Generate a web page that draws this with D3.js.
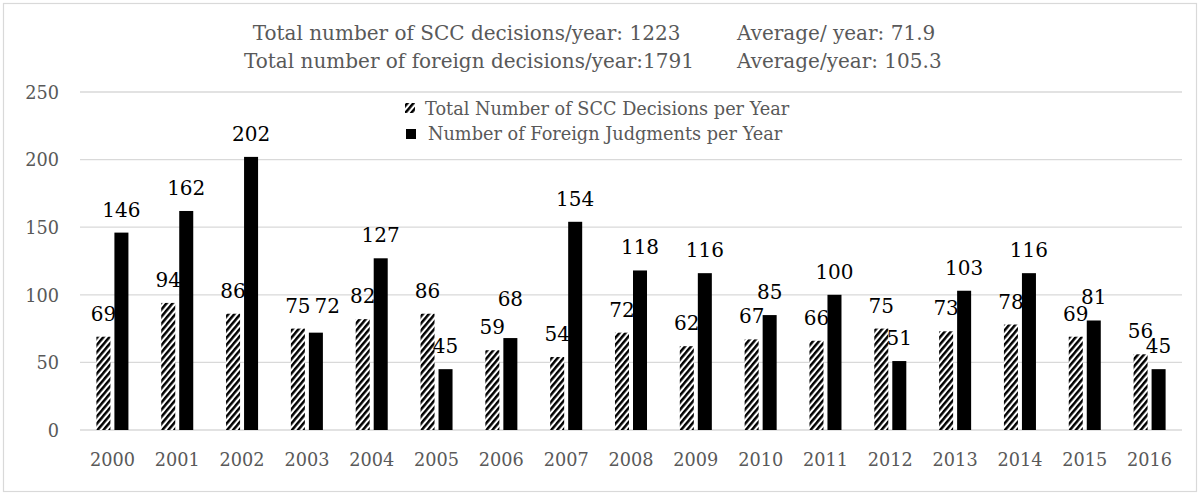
<!DOCTYPE html>
<html>
<head>
<meta charset="utf-8">
<script src="https://cdn.jsdelivr.net/npm/d3@7"></script>
<style>
  html, body { margin: 0; padding: 0; background: #fff; }
  svg { display: block; }
  text { font-family: "DejaVu Serif", serif; }
</style>
</head>
<body>
<svg id="chart" width="1200" height="493"></svg>
<script>
// ---- Data ----
const years = ["2000","2001","2002","2003","2004","2005","2006","2007","2008","2009","2010","2011","2012","2013","2014","2015","2016"];
const sccDecisions = [69,94,86,75,82,86,59,54,72,62,67,66,75,73,78,69,56];
const foreignJudgments = [146,162,202,72,127,45,68,154,118,116,85,100,51,103,116,81,45];
const seriesNames = ["Total Number of SCC Decisions per Year", "Number of Foreign Judgments per Year"];
const yTicks = [0,50,100,150,200,250];
const titleLeft = ["Total number of SCC decisions/year: 1223", "Total number of foreign decisions/year:1791"];
const titleRight = ["Average/ year: 71.9", "Average/year: 105.3"];

// ---- Setup ----
const svg = d3.select("#chart");
const gray = "#595959", grid = "#d9d9d9";

const defs = svg.append("defs");
const pat = defs.append("pattern")
  .attr("id", "hatch")
  .attr("patternUnits", "userSpaceOnUse")
  .attr("width", 4.6).attr("height", 4.6)
  .attr("patternTransform", "rotate(40)");
pat.append("rect").attr("width", 4.6).attr("height", 4.6).attr("fill", "#fff");
pat.append("rect").attr("width", 2.5).attr("height", 4.6).attr("fill", "#000");

// frame
svg.append("rect").attr("x", 3.5).attr("y", 3.5).attr("width", 1193).attr("height", 488)
  .attr("fill", "#fff").attr("stroke", grid).attr("stroke-width", 1.2);

const x = d3.scaleBand().domain(years).range([80, 1182]).paddingInner(0.506).paddingOuter(0.253);
const xi = d3.scaleBand().domain([0, 1]).range([0, x.bandwidth()]).paddingInner(0.222);
const y = d3.scaleLinear().domain([0, 250]).range([430, 92]);

// gridlines
svg.append("g").selectAll("line").data(yTicks).join("line")
  .attr("x1", 80).attr("x2", 1182)
  .attr("y1", d => y(d)).attr("y2", d => y(d))
  .attr("stroke", grid).attr("stroke-width", 1.3);

// y axis labels
const yAxis = d3.axisLeft(y).tickValues(yTicks).tickSize(0).tickPadding(0);
const gy = svg.append("g").attr("transform", "translate(59,0)").call(yAxis);
gy.select(".domain").remove();
gy.selectAll("text").attr("fill", gray).style("font-size", "17.7px")
  .style("font-family", '"DejaVu Serif", serif').attr("dy", "0.36em");

// x axis labels
const xAxis = d3.axisBottom(x).tickSize(0).tickPadding(0);
const gx = svg.append("g").attr("transform", "translate(0,466)").call(xAxis);
gx.select(".domain").remove();
gx.selectAll("text").attr("fill", gray).style("font-size", "17.7px")
  .style("font-family", '"DejaVu Serif", serif').attr("dy", "0");

// bars
const rows = years.map((yr, i) => ({ yr, vals: [sccDecisions[i], foreignJudgments[i]] }));
const groups = svg.append("g").selectAll("g").data(rows).join("g")
  .attr("transform", d => `translate(${x(d.yr)},0)`);
groups.selectAll("rect").data(d => d.vals.map((v, k) => ({ v, k }))).join("rect")
  .attr("x", d => xi(d.k)).attr("width", xi.bandwidth())
  .attr("y", d => y(d.v)).attr("height", d => y(0) - y(d.v))
  .attr("fill", d => d.k === 0 ? "url(#hatch)" : "#000");

// data labels
const labelG = svg.append("g");
rows.forEach(r => {
  const t = r.vals.map((v, k) => labelG.append("text")
    .attr("x", x(r.yr) + xi(k) + xi.bandwidth() / 2)
    .attr("y", y(v) - 16)
    .attr("text-anchor", "middle")
    .attr("fill", "#000")
    .style("font-size", "20px")
    .text(v));
  // collision avoidance between the two labels of a year
  const y0 = +t[0].attr("y"), y1 = +t[1].attr("y");
  const d = y0 - y1; // >0 when foreign label is above
  if (Math.abs(d) < 10) {
    const w0 = t[0].node().getComputedTextLength(), w1 = t[1].node().getComputedTextLength();
    const yy = Math.min(y0, y1);
    t[0].attr("y", yy); t[1].attr("y", yy);
    t[1].attr("x", +t[0].attr("x") + w0 / 2 + w1 / 2 + 4);
  } else if (d >= 10 && d < 16) {
    t[1].attr("y", y0 - 28);
  }
});

// title block
const titleG = svg.append("g").attr("fill", gray).style("font-size", "20px");
[[466.5, 40], [469, 68]].forEach((p, i) => {
  titleG.append("text").attr("x", p[0]).attr("y", p[1]).attr("text-anchor", "middle").text(titleLeft[i]);
  titleG.append("text").attr("x", 737).attr("y", p[1]).text(titleRight[i]);
});

// legend
const legend = svg.append("g");
const legendRows = [
  { name: seriesNames[0], fill: "url(#hatch)", mx: 405, my: 103, tx: 425, ty: 115 },
  { name: seriesNames[1], fill: "#000", mx: 406, my: 129, tx: 428, ty: 140 }
];
legendRows.forEach(l => {
  legend.append("rect").attr("x", l.mx).attr("y", l.my).attr("width", 10).attr("height", 10).attr("fill", l.fill);
  legend.append("text").attr("x", l.tx).attr("y", l.ty).attr("fill", gray).style("font-size", "17.7px").text(l.name);
});
</script>
</body>
</html>
